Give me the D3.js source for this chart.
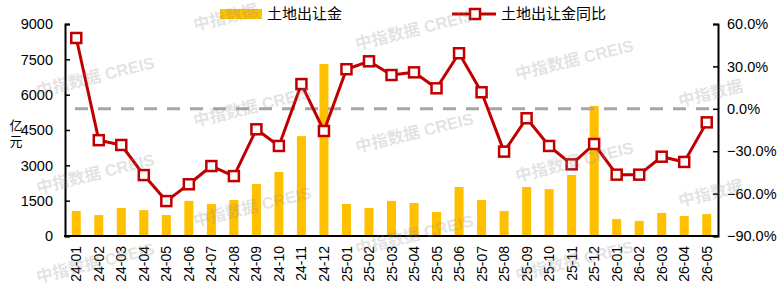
<!DOCTYPE html>
<html>
<head>
<meta charset="utf-8">
<script src="https://cdn.jsdelivr.net/npm/d3@7"></script>
<style>
	body { margin: 0; background: #fff; }
	svg text { font-family: "Liberation Sans", Arial, "Noto Sans CJK SC", sans-serif; }
</style>
</head>
<body>
<div id="graphic"></div>
<script>
// months shown on the x axis
const months = [
	'24-01', '24-02', '24-03', '24-04', '24-05', '24-06', '24-07', '24-08', '24-09', '24-10', '24-11', '24-12',
	'25-01', '25-02', '25-03', '25-04', '25-05', '25-06', '25-07', '25-08', '25-09', '25-10', '25-11', '25-12',
	'26-01', '26-02', '26-03', '26-04', '26-05'
];
// 土地出让金 (亿元)
const landRevenue = [
	1060, 890, 1190, 1100, 890, 1490, 1360, 1530, 2210, 2720, 4240, 7300,
	1360, 1190, 1490, 1400, 1020, 2080, 1530, 1060, 2080, 1990, 2590, 5520,
	720, 640, 980, 850, 930
];
// 土地出让金同比 (%)
const yoyChange = [
	50.1, -22.2, -25.6, -46.9, -65.3, -53.4, -40.5, -47.6, -14.5, -26.3, 17.5, -15.7,
	28.0, 33.6, 23.9, 25.8, 14.5, 39.3, 11.7, -30.3, -6.7, -26.3, -39.3, -24.9,
	-46.6, -46.6, -33.9, -37.6, -9.6
];
const leftTicks = [0, 1500, 3000, 4500, 6000, 7500, 9000];
const rightTicks = [-90, -60, -30, 0, 30, 60];

const width = 784, height = 290;
const plot = { left: 65, right: 718, top: 24, bottom: 236 };
const barColour = '#FFC000', lineColour = '#C00000';

const svg = d3.select('#graphic').append('svg')
	.attr('width', width)
	.attr('height', height);

const x = d3.scaleBand()
	.domain(months)
	.range([plot.left, plot.right])
	.paddingInner(0.6)
	.paddingOuter(0.3);

const yLeft = d3.scaleLinear().domain([0, 9000]).range([plot.bottom, plot.top]);
const yRight = d3.scaleLinear().domain([-90, 60]).range([plot.bottom, plot.top]);

// bars
svg.append('g')
	.selectAll('rect')
	.data(months)
	.join('rect')
	.attr('x', d => x(d))
	.attr('width', x.bandwidth())
	.attr('y', (d, i) => yLeft(landRevenue[i]))
	.attr('height', (d, i) => yLeft(0) - yLeft(landRevenue[i]))
	.attr('fill', barColour);

// dashed zero line for the right axis
svg.append('line')
	.attr('x1', plot.left)
	.attr('x2', plot.right)
	.attr('y1', yRight(0))
	.attr('y2', yRight(0))
	.attr('stroke', '#A6A6A6')
	.attr('stroke-width', 3)
	.attr('stroke-dasharray', '13,10')
	.attr('stroke-dashoffset', 13);

// line + square markers
const cx = d => x(d) + x.bandwidth() / 2;
const lineGenerator = d3.line()
	.x(d => cx(d))
	.y((d, i) => yRight(yoyChange[i]));

svg.append('path')
	.datum(months)
	.attr('fill', 'none')
	.attr('stroke', lineColour)
	.attr('stroke-width', 3)
	.attr('stroke-linejoin', 'round')
	.attr('d', lineGenerator);

const marker = 10;
svg.append('g')
	.selectAll('rect')
	.data(months)
	.join('rect')
	.attr('x', d => cx(d) - marker / 2)
	.attr('y', (d, i) => yRight(yoyChange[i]) - marker / 2)
	.attr('width', marker)
	.attr('height', marker)
	.attr('fill', '#fff')
	.attr('stroke', lineColour)
	.attr('stroke-width', 2.5);

// axes
const leftAxis = svg.append('g')
	.attr('transform', `translate(${plot.left},0)`)
	.call(d3.axisRight(yLeft).tickValues(leftTicks).tickSize(5).tickFormat(''));
const rightAxis = svg.append('g')
	.attr('transform', `translate(${plot.right},0)`)
	.call(d3.axisLeft(yRight).tickValues(rightTicks).tickSize(5).tickFormat(''));
[leftAxis, rightAxis].forEach(a => {
	a.select('.domain').attr('stroke', '#000').attr('stroke-width', 2);
	a.selectAll('.tick line').attr('stroke', '#000').attr('stroke-width', 1.5);
});

svg.append('line')
	.attr('x1', plot.left - 1)
	.attr('x2', plot.right + 1)
	.attr('y1', plot.bottom)
	.attr('y2', plot.bottom)
	.attr('stroke', '#000')
	.attr('stroke-width', 2);

// tick labels
svg.append('g')
	.selectAll('text')
	.data(leftTicks)
	.join('text')
	.attr('x', 53)
	.attr('y', d => yLeft(d))
	.attr('dy', '0.36em')
	.attr('text-anchor', 'end')
	.attr('font-size', 14.5)
	.attr('fill', '#000')
	.text(d => d);

svg.append('g')
	.selectAll('text')
	.data(rightTicks)
	.join('text')
	.attr('x', 727)
	.attr('y', d => yRight(d))
	.attr('dy', '0.36em')
	.attr('font-size', 14.5)
	.attr('fill', '#000')
	.text(d => d3.format('.1f')(d) + '%');

svg.append('g')
	.selectAll('text')
	.data(months)
	.join('text')
	.attr('transform', d => `translate(${cx(d)},246) rotate(-90)`)
	.attr('dy', '0.36em')
	.attr('text-anchor', 'end')
	.attr('font-size', 14)
	.attr('fill', '#000')
	.text(d => d);

// y axis unit label
svg.append('text')
	.attr('font-size', 13)
	.attr('text-anchor', 'middle')
	.selectAll('tspan')
	.data(['亿', '元'])
	.join('tspan')
	.attr('x', 16)
	.attr('y', (d, i) => 130 + i * 16)
	.text(d => d);

// legend
svg.append('rect')
	.attr('x', 220).attr('y', 9)
	.attr('width', 42).attr('height', 10)
	.attr('fill', barColour);
svg.append('text')
	.attr('x', 267).attr('y', 14)
	.attr('dy', '0.36em')
	.attr('font-size', 15)
	.text('土地出让金');

svg.append('line')
	.attr('x1', 452).attr('x2', 496)
	.attr('y1', 14).attr('y2', 14)
	.attr('stroke', lineColour)
	.attr('stroke-width', 3);
svg.append('rect')
	.attr('x', 475 - marker / 2).attr('y', 14 - marker / 2)
	.attr('width', marker).attr('height', marker)
	.attr('fill', '#fff')
	.attr('stroke', lineColour)
	.attr('stroke-width', 2.5);
svg.append('text')
	.attr('x', 501).attr('y', 14)
	.attr('dy', '0.36em')
	.attr('font-size', 15)
	.text('土地出让金同比');

// watermark
const marks = [
	[38, 97, '中指数据 CREIS'], [38, 194, '中指数据 CREIS'], [38, 283, '中指数据 CREIS'],
	[195, 31, '中指数据'], [195, 127, '中指数据 CREIS'], [195, 227, '中指数据 CREIS'],
	[357, 50, '中指数据 CREIS'], [357, 153, '中指数据 CREIS'], [357, 255, '中指数据 CREIS'],
	[517, 80, '中指数据 CREIS'], [517, 182, '中指数据 CREIS'], [517, 281, '中指数据 CREIS'],
	[680, 107, '中指数据'], [680, 207, '中指数据']
];
svg.append('g')
	.attr('pointer-events', 'none')
	.selectAll('text')
	.data(marks)
	.join('text')
	.attr('transform', d => `translate(${d[0]},${d[1]}) rotate(-14)`)
	.attr('font-size', 16.5)
	.attr('font-weight', 'bold')
	.attr('fill', '#8c8c8c')
	.attr('fill-opacity', 0.25)
	.text(d => d[2]);
</script>
</body>
</html>
